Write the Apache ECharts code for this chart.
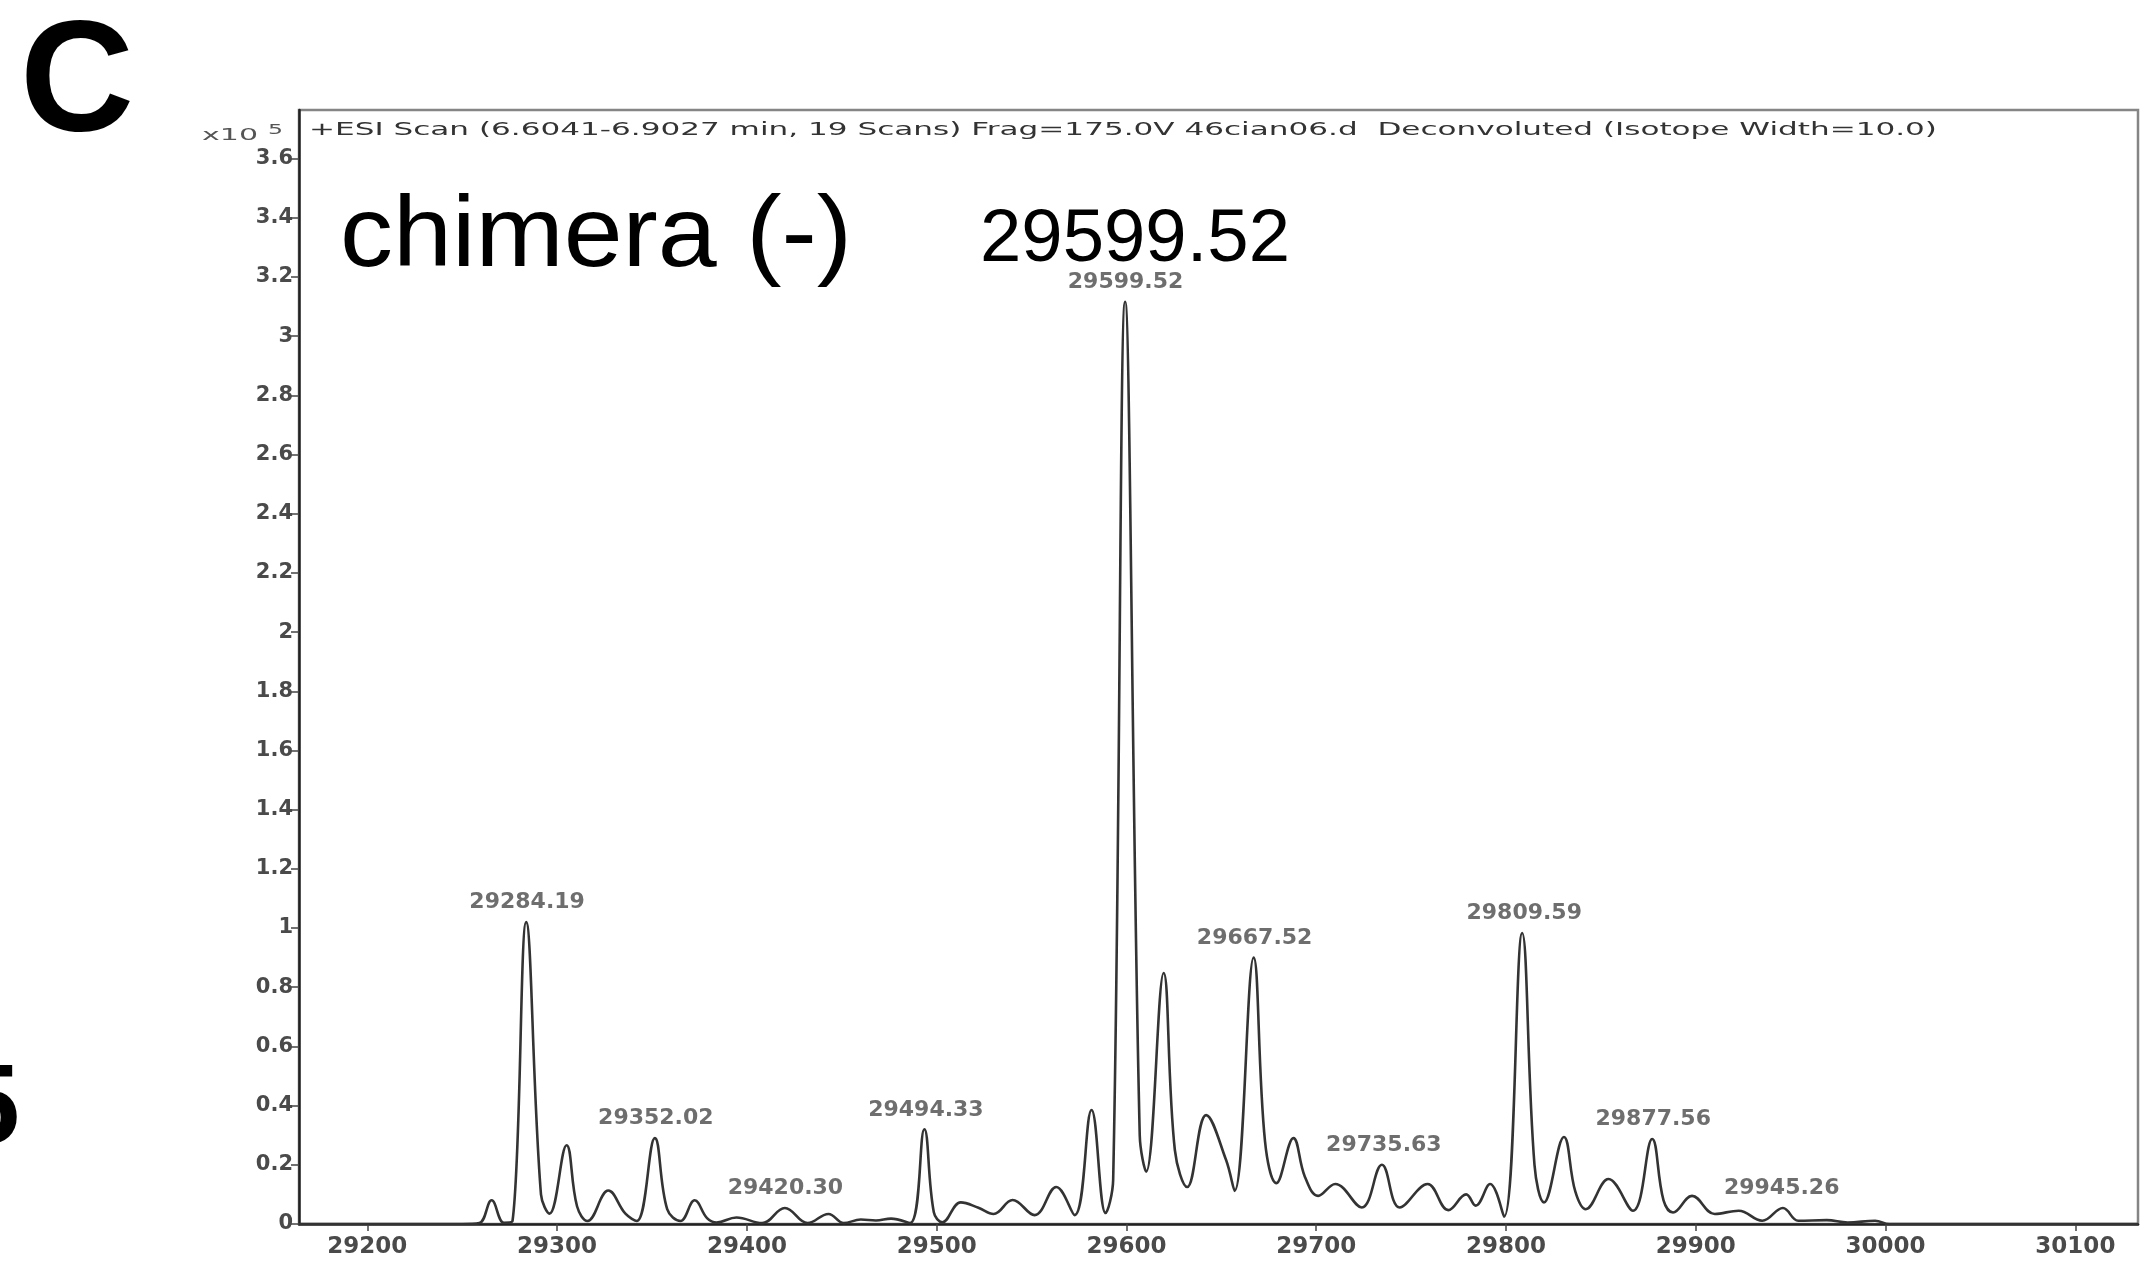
<!DOCTYPE html>
<html>
<head>
<meta charset="utf-8">
<title>chimera (-) deconvoluted spectrum</title>
<script src="https://cdn.jsdelivr.net/npm/echarts@6.0.0/dist/echarts.min.js"></script>
<style>
  html, body { margin: 0; padding: 0; background: #fff; }
  #chart { width: 2152px; height: 1285px; }
</style>
</head>
<body>
<div id="chart"></div>
<script>
// deconvoluted mass (Da) and abundance (x10^5 counts)
const massX = [
  29164, 29250, 29259, 29265.5, 29272, 29276.5, 29283.7, 29291.5, 29296, 29305,
  29310.5, 29316, 29327, 29336, 29342, 29351.5, 29358, 29365, 29372.5, 29379,
  29384, 29394.5, 29408, 29420, 29432, 29443, 29451, 29460, 29468, 29476,
  29486, 29493.5, 29498.5, 29503, 29512.7, 29522, 29530, 29540, 29551.6, 29563,
  29572.7, 29581.6, 29589, 29593, 29599.3, 29607, 29610.4, 29619.6, 29625.5, 29632,
  29642, 29652.5, 29657, 29667, 29673, 29679, 29688, 29694, 29701, 29710,
  29724, 29734.6, 29744, 29758.7, 29769.6, 29779, 29784, 29791.6, 29799, 29808.5,
  29815, 29820, 29830.5, 29836.5, 29842, 29854, 29866.9, 29877, 29883, 29888,
  29898, 29910, 29922.6, 29935, 29945.9, 29954, 29969, 29980, 29994.5, 30002,
  30133
];
const abund = [
  0, 0, 0.003, 0.08, 0.004, 0.01, 1.02, 0.1, 0.035, 0.266,
  0.06, 0.01, 0.113, 0.035, 0.01, 0.29, 0.05, 0.01, 0.08, 0.02,
  0.005, 0.022, 0.003, 0.054, 0.003, 0.034, 0.003, 0.015, 0.012, 0.018,
  0.003, 0.32, 0.04, 0.006, 0.073, 0.055, 0.034, 0.081, 0.03, 0.125,
  0.03, 0.385, 0.037, 0.15, 3.116, 0.3, 0.177, 0.848, 0.25, 0.125,
  0.368, 0.216, 0.112, 0.90, 0.28, 0.138, 0.29, 0.16, 0.095, 0.135,
  0.056, 0.20, 0.056, 0.135, 0.047, 0.10, 0.062, 0.135, 0.025, 0.983,
  0.2, 0.073, 0.294, 0.11, 0.05, 0.152, 0.045, 0.287, 0.08, 0.039,
  0.095, 0.034, 0.045, 0.011, 0.054, 0.011, 0.013, 0.005, 0.011, 0,
  0
];

// labelled peaks
const peakMass = [29284.19, 29352.02, 29420.30, 29494.33, 29599.52, 29667.52, 29735.63, 29809.59, 29877.56, 29945.26];
const peakHeight = [1.02, 0.29, 0.054, 0.32, 3.116, 0.90, 0.20, 0.983, 0.287, 0.054];

const xTicks = [29200, 29300, 29400, 29500, 29600, 29700, 29800, 29900, 30000, 30100];
const yTicks = [0, 0.2, 0.4, 0.6, 0.8, 1, 1.2, 1.4, 1.6, 1.8, 2, 2.2, 2.4, 2.6, 2.8, 3, 3.2, 3.4, 3.6];

const headerText = '+ESI Scan (6.6041-6.9027 min, 19 Scans) Frag=175.0V 46cian06.d  Deconvoluted (Isotope Width=10.0)';

const myChart = echarts.init(document.getElementById('chart'));

// the instrument printout is stretched sideways, so scale the text to the width it has there
const measureCtx = document.createElement('canvas').getContext('2d');
function textEl(text, x, y, font, width, fill, align) {
  measureCtx.font = font;
  const w = measureCtx.measureText(text).width;
  return {
    type: 'text', x: x, y: y, scaleX: width ? width / w : 1, silent: true,
    style: { text: text, font: font, fill: fill || '#000', align: align || 'left', textAlign: align || 'left', verticalAlign: 'middle', textVerticalAlign: 'middle' }
  };
}

const labelFont = { fontFamily: 'DejaVu Sans', fontWeight: 'bold', color: '#4a4a4a' };

const option = {
  animation: false,
  backgroundColor: '#fff',
  grid: {
    left: 299, right: 14, top: 110, bottom: 61,
    show: true, borderColor: '#858585', borderWidth: 2.5,
    outerBoundsMode: 'none'
  },
  xAxis: {
    type: 'value',
    min: 29164,
    max: 30133,
    axisLine: { show: true, onZero: false, lineStyle: { color: '#222', width: 2.5 } },
    axisTick: { show: true, length: 7, customValues: xTicks, lineStyle: { color: '#444', width: 1.5 } },
    axisLabel: Object.assign({
      customValues: xTicks, margin: 12, fontSize: 23,
      formatter: function (v) { return String(v); }
    }, labelFont),
    splitLine: { show: false }
  },
  yAxis: {
    type: 'value',
    min: 0,
    max: 3.764,
    axisLine: { show: true, lineStyle: { color: '#222', width: 2.5 } },
    axisTick: { show: true, length: 8, customValues: yTicks, lineStyle: { color: '#444', width: 1.5 } },
    axisLabel: Object.assign({
      customValues: yTicks, margin: 6, fontSize: 21,
      formatter: function (v) { return String(Number(v.toFixed(1))); }
    }, labelFont),
    splitLine: { show: false }
  },
  series: [
    {
      name: 'spectrum',
      type: 'line',
      data: massX.map(function (m, i) { return [m, abund[i]]; }),
      showSymbol: false,
      smooth: 0.4,
      lineStyle: { color: '#333', width: 2.6 },
      silent: true
    },
    {
      name: 'peaks',
      type: 'scatter',
      data: peakMass.map(function (m, i) { return [m, peakHeight[i]]; }),
      symbolSize: 1,
      itemStyle: { color: 'rgba(0,0,0,0)' },
      silent: true,
      label: Object.assign({
        show: true, position: 'top', distance: 8, fontSize: 22,
        formatter: function (p) { return p.value[0].toFixed(2); }
      }, labelFont)
    }
  ],
  graphic: [
    textEl('C', 77, 86, 'bold 158px "Liberation Sans"', 0, '#000', 'center'),
    textEl('5', 20, 1112, 'bold 114px "Liberation Sans"', 0, '#000', 'right'),
    textEl(headerText, 309, 131, '17px "DejaVu Sans"', 1628, '#333'),
    textEl('x10', 202, 136, '16px "DejaVu Sans"', 56, '#555'),
    textEl('5', 268, 130, '14px "DejaVu Sans"', 15, '#555'),
    textEl('chimera (-)', 340, 238, '100px "Liberation Sans"', 512, '#000'),
    textEl('29599.52', 980, 241, '74px "Liberation Sans"', 310, '#000')
  ]
};

myChart.setOption(option);
</script>
</body>
</html>
